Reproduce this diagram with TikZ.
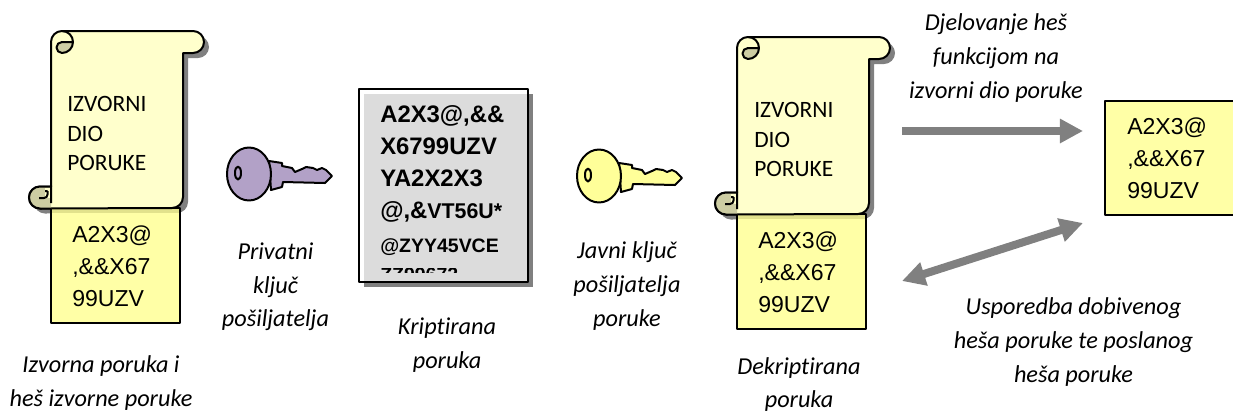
\documentclass[tikz,border=0pt]{standalone}
\usepackage{fontspec}
\setmainfont[Ligatures=NoCommon]{Carlito}
\newfontfamily\arialf{Liberation Sans}
\usetikzlibrary{arrows.meta}
\definecolor{scrollfill}{HTML}{FFFFCC}
\definecolor{tanfill}{HTML}{CDCDA3}
\definecolor{boxfill}{HTML}{FFFFA6}
\definecolor{shadowgray}{HTML}{808080}
\definecolor{stripe}{HTML}{E2E28C}
\definecolor{purplekey}{HTML}{B2A1C7}
\definecolor{yellowkey}{HTML}{FFFF99}
\definecolor{cryptgray}{HTML}{DCDCDC}
\tikzset{
  x=0.75pt,y=-0.75pt,
  outl/.style={draw=black,line width=1.5pt,line join=round},
  caption/.style={font=\fontsize{18.2}{25.2}\selectfont\itshape,align=center,inner sep=0pt,text=black},
  scrolltext/.style={font=\fontsize{17.6}{22.2}\selectfont,align=left,inner sep=0pt,anchor=north west},
  hashtext/.style={font=\arialf\fontsize{17.3}{24}\selectfont,align=left,inner sep=0pt,anchor=north west},
  crypt/.style={font=\arialf\bfseries\fontsize{#1}{20}\selectfont,inner sep=0pt,anchor=base west},
  bigarrow/.style={draw=shadowgray,line width=6pt},
  tip/.tip={Triangle[length=17.3pt,width=17.3pt]},
}
\newcommand{\scrollpath}{(51,42) arc[start angle=180,end angle=270,radius=11] -- (193,31) arc[start angle=-90,end angle=90,radius=11] -- (183,53) -- (183,197) arc[start angle=0,end angle=90,radius=11] -- (40,208.5) arc[start angle=90,end angle=270,radius=11] -- (51,186.5) -- cycle}
\newcommand{\keypath}{(269,161) -- (282,163) -- (282,166) -- (292,168) -- (295,172) -- (302,169) -- (306,167) -- (313,168) -- (317,170) -- (322,168) -- (326,170) -- (332,176) -- (325,183) -- (283,182) -- (282,187) -- (271,190) -- cycle}
\newcommand{\drawscroll}[3]{%
 \begin{scope}[shift={(#1,#2)}]
  \fill[shadowgray,shift={(5,5)}] \scrollpath;
  \path[fill=boxfill,outl] (51,208) rectangle (180,#3);
  \fill[stripe] (52,209) rectangle (179,213);
  \path[fill=scrollfill,outl] \scrollpath;
  % top curl
  \path[fill=tanfill,outl] (73,42) arc[start angle=0,end angle=90,radius=11] arc[start angle=90,end angle=180,radius=5.5] arc[start angle=180,end angle=270,radius=5.5] -- cycle;
  \draw[black,line width=1.5pt] (62,31) arc[start angle=-90,end angle=0,radius=11];
  % bottom curl
  \path[fill=tanfill] (51,186.5) -- (40,186.5) arc[start angle=-90,end angle=-270,radius=11] -- (51,208.5) -- cycle;
  \fill[scrollfill] (45,187.5) rectangle (50.4,197.5);
  \draw[black,line width=1.5pt] (39,198) -- (44,198) arc[start angle=90,end angle=0,radius=3.5] -- (47.5,191) (45,191) -- (47.5,191);
  \draw[black,line width=1.5pt] (51,203) -- (51,186.5) -- (40,186.5) arc[start angle=-90,end angle=-270,radius=11] -- (51,208.5);
 \end{scope}}
\begin{document}
\begin{tikzpicture}
\useasboundingbox (0,0) rectangle (1233,412);
\drawscroll{0}{0}{323}
\drawscroll{686}{6}{323}
\node[scrolltext] (s1) at (67,96) {IZVORNI\\DIO\\PORUKE};
\node[scrolltext] (s2) at (754,102) {IZVORNI\\DIO\\PORUKE};
\node[hashtext] (h1) at (72,226) {A2X3@\\,\&\&X67\\99UZV};
\node[hashtext] (h2) at (758,232) {A2X3@\\,\&\&X67\\99UZV};
% private key
\path[fill=purplekey,outl] \keypath;
\path[fill=purplekey,outl] (249,174) ellipse[x radius=22,y radius=26.5];
\path[fill=purplekey,outl] (238,173) ellipse[x radius=3,y radius=6.5];
% public key
\begin{scope}[shift={(350,2)}]
\path[fill=yellowkey,outl] \keypath;
\path[fill=yellowkey,outl] (249,174) ellipse[x radius=22,y radius=26.5];
\path[fill=yellowkey,outl] (238,173) ellipse[x radius=3,y radius=6.5];
\end{scope}
% encrypted box
\fill[shadowgray] (364,94) rectangle (533,287);
\path[fill=white,outl] (359,89) rectangle (528,282);
\fill[cryptgray] (364,94) rectangle (527,281);
\node[crypt=17.9] (c1) at (380,122) {A2X3@,\&\&};
\node[crypt=17.9] (c2) at (380,154) {X6799UZV};
\node[crypt=17.9] (c3) at (380,186) {YA2X2X3};
\node[crypt=16] (c4) at (380,218) {{\fontsize{17.9}{20}\selectfont @,\&}VT56U*};
\node[crypt=14.6] (c5) at (380,252) {@ZYY45VCE};
\begin{scope}
\clip (370,268) rectangle (520,272.5);
\node[crypt=14.6] (c6) at (380,281) {ZZ99672};
\end{scope}
% hash box
\path[fill=boxfill,outl] (1105,101) rectangle (1240,215);
\node[hashtext] (h3) at (1127,118) {A2X3@\\,\&\&X67\\99UZV};
% arrows
\coordinate (a1s) at (902,131);
\coordinate (a1e) at (1083,131);
\coordinate (a2s) at (902,281);
\coordinate (a2e) at (1083,223);
\draw[bigarrow,-{tip}] (a1s) -- (a1e);
\draw[bigarrow,{tip}-{tip}] (a2s) -- (a2e);
% captions
\node[caption] (t1) at (101,383) {Izvorna poruka i\\heš izvorne poruke};
\node[caption] (t2) at (275.5,287) {Privatni\\ključ\\pošiljatelja};
\node[caption] (t3) at (447,345) {Kriptirana\\poruka};
\node[caption] (t4) at (627,286) {Javni ključ\\pošiljatelja\\poruke};
\node[caption] (t5) at (799,384.5) {Dekriptirana\\poruka};
\node[caption] (t6) at (996,58) {Djelovanje heš\\funkcijom na\\izvorni dio poruke};
\node[caption] (t7) at (1073.5,342) {Usporedba dobivenog\\heša poruke te poslanog\\heša poruke};
\end{tikzpicture}
\end{document}
